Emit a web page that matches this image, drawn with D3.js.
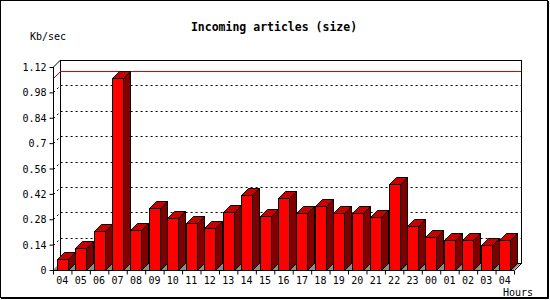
<!DOCTYPE html>
<html>
<head>
<meta charset="utf-8">
<script src="https://cdn.jsdelivr.net/npm/d3@7"></script>
<style>
  body { margin: 0; background: #fff; }
  text { font-family: "DejaVu Sans Mono", monospace; font-size: 10px; fill: #000; }
</style>
</head>
<body>
<svg id="chart" width="550" height="300"></svg>
<script>
// hours shown on the x axis (last 24h, wrapping)
const hours = ["04","05","06","07","08","09","10","11","12","13","14","15","16",
               "17","18","19","20","21","22","23","00","01","02","03","04"]
// incoming articles, Kb/sec
const kbps = [0.06, 0.12, 0.215, 1.06, 0.22, 0.34, 0.285, 0.258, 0.23, 0.318, 0.412, 0.296, 0.395,
              0.313, 0.351, 0.313, 0.313, 0.291, 0.474, 0.241, 0.18, 0.164, 0.164, 0.136, 0.164]
const yTicks = [0, 0.14, 0.28, 0.42, 0.56, 0.7, 0.84, 0.98, 1.12]

var margin = {top: 67, left: 53, right: 36, bottom: 30},
    width = 550, height = 300
const depth = 7

const svg = d3.select("#chart")

// outer frame with shadow on right/bottom
svg.append("rect").attr("x", 0.5).attr("y", 0.5).attr("width", 547).attr("height", 297)
    .attr("fill", "#fff").attr("stroke", "#000")
svg.append("path").attr("d", "M548.5,1V298.5H1").attr("fill", "none").attr("stroke", "#000")

const x = d3.scaleBand().domain(d3.range(hours.length)).range([53, 514]).padding(0)
const xl = d3.scaleLinear().domain([0, hours.length]).range([53, 514])
const y = d3.scaleLinear().domain([0, 1.12]).range([270, 67])
const y0 = y(0)

// back wall + floor
svg.append("path")
    .attr("d", `M${xl(0)},${y0}L${xl(0) + depth},${y0 - depth}L${xl(hours.length) + depth},${y0 - depth}L${xl(hours.length)},${y0}Z`)
    .attr("fill", "#8c8c8c")
svg.append("rect")
    .attr("x", xl(0) + depth + 0.5).attr("y", y(1.12) - depth + 0.5)
    .attr("width", xl(hours.length) - xl(0)).attr("height", y0 - y(1.12))
    .attr("fill", "#fff").attr("stroke", "#000")
svg.append("line")
    .attr("x1", xl(0) + 0.5).attr("y1", y(1.12)).attr("x2", xl(0) + depth + 0.5).attr("y2", y(1.12) - depth)
    .attr("stroke", "#000")
svg.append("line")
    .attr("x1", xl(hours.length) + 0.5).attr("y1", y0 + 0.5).attr("x2", xl(hours.length) + depth + 0.5).attr("y2", y0 - depth + 0.5)
    .attr("stroke", "#000")

// dotted grid
svg.append("g").selectAll("path")
    .data(yTicks.filter(d => d > 0 && d < 1.12))
    .join("path")
    .attr("d", d => `M${xl(0) + 0.5},${Math.round(y(d)) + 0.5}l${depth},${-depth}H${xl(hours.length) + depth}`)
    .attr("fill", "none").attr("stroke", "#000").attr("stroke-dasharray", "2,3")

// max line
const mx = d3.max(kbps)
svg.append("path")
    .attr("d", `M${xl(0) + 0.5},${Math.round(y(mx)) + 0.5}l${depth},${-depth}H${xl(hours.length) + depth}`)
    .attr("fill", "none").attr("stroke", "#e00000")

// bars
const bw = x.bandwidth() * 0.6
const off = x.bandwidth() * 0.2
const bars = svg.append("g").selectAll("g").data(kbps).join("g")
bars.append("path") // top
    .attr("d", (d, i) => {
        const a = Math.round(x(i) + off) + 0.5, b = a + Math.round(bw), t = Math.round(y(d)) + 0.5
        return `M${a},${t}L${b},${t}l${depth},${-depth}H${a + depth}Z`
    })
    .attr("fill", "#c80000").attr("stroke", "#000")
bars.append("path") // side
    .attr("d", (d, i) => {
        const b = Math.round(x(i) + off) + 0.5 + Math.round(bw), t = Math.round(y(d)) + 0.5
        return `M${b},${t}l${depth},${-depth}V${y0 - depth + 0.5}L${b},${y0 + 0.5}Z`
    })
    .attr("fill", "#800000").attr("stroke", "#000")
bars.append("rect") // front
    .attr("x", (d, i) => Math.round(x(i) + off) + 0.5)
    .attr("y", d => Math.round(y(d)) + 0.5)
    .attr("width", Math.round(bw))
    .attr("height", d => y0 - Math.round(y(d)))
    .attr("fill", "#ff0000").attr("stroke", "#000")

// y axis
const yAxis = d3.axisLeft(y).tickValues(yTicks).tickSize(4).tickPadding(3)
    .tickFormat(d => d3.format("~g")(d))
const gY = svg.append("g").attr("transform", `translate(${xl(0) + 0.5},0)`).call(yAxis)
gY.select(".domain").attr("d", `M0,${y(1.12)}V${y0 + 4}`)
gY.selectAll("text").attr("font-family", null).attr("font-size", null).attr("dy", "0.36em")

// x axis: ticks at band edges, labels at centers
const xAxis = d3.axisBottom(xl).tickValues(d3.range(hours.length + 1)).tickSize(4).tickFormat("")
svg.append("g").attr("transform", `translate(0,${y0 + 0.5})`).call(xAxis)
    .select(".domain").attr("d", `M${xl(0)},0H${xl(hours.length)}`)
const xLab = d3.axisBottom(x).tickSize(0).tickPadding(6).tickFormat(i => hours[i])
const gX = svg.append("g").attr("transform", `translate(0,${y0 + 0.5})`).call(xLab)
gX.select(".domain").remove()
gX.selectAll("text").attr("font-family", null).attr("font-size", null)

// titles
svg.append("text").attr("x", 274).attr("y", 31).attr("text-anchor", "middle")
    .style("font-weight", "bold").style("font-size", "11.5px").text("Incoming articles (size)")
svg.append("text").attr("x", 30).attr("y", 40).text("Kb/sec")
svg.append("text").attr("x", 533).attr("y", 296).attr("text-anchor", "end").text("Hours")
</script>
</body>
</html>
